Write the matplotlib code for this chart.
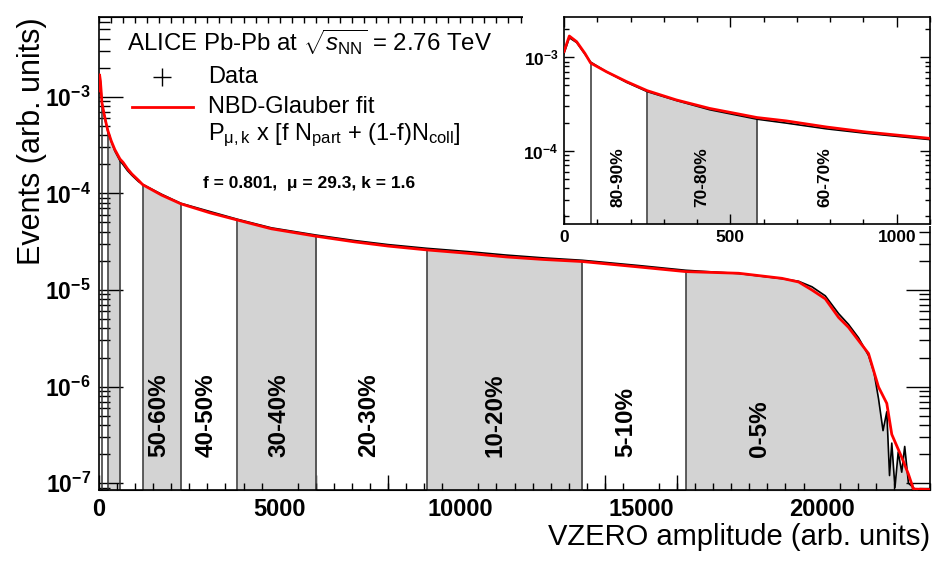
import matplotlib
matplotlib.use("Agg")
from matplotlib import pyplot as plt
from matplotlib.ticker import MultipleLocator, LogLocator, NullFormatter
import matplotlib.patches as mpatches
import numpy as np

plt.rcParams['font.family'] = ['Liberation Sans', 'DejaVu Sans']
plt.rcParams['mathtext.fontset'] = 'custom'
plt.rcParams['mathtext.rm'] = 'Liberation Sans'
plt.rcParams['mathtext.it'] = 'Liberation Sans:italic'
plt.rcParams['mathtext.bf'] = 'Liberation Sans:bold'
plt.rcParams['mathtext.sf'] = 'Liberation Sans'

# VZERO amplitude distribution
data_amp = [0, 16, 38, 63, 80, 128, 188, 250, 338, 438, 580, 668, 788, 908, 1098,
            1210, 1732, 2265, 3066, 3830, 4771, 6015, 7072, 8000, 9070, 10200, 11262,
            12300, 13380, 14945, 16240, 17707, 18903, 19365, 19732, 20102, 20470, 20746,
            21022, 21298, 21450, 21575, 21700, 21804, 21880, 21942, 22030, 22120, 22218,
            22300, 22403, 22541, 22650]
data_evt = [1.10e-3, 1.62e-3, 1.44e-3, 1.08e-3, 8.9e-4, 7.0e-4, 5.4e-4, 4.3e-4, 3.45e-4,
            2.75e-4, 2.18e-4, 1.98e-4, 1.72e-4, 1.54e-4, 1.32e-4,
            1.24e-4, 9.8e-5, 7.9e-5, 6.5e-5, 5.4e-5, 4.4e-5, 3.7e-5, 3.25e-5, 2.95e-5,
            2.7e-5, 2.5e-5, 2.3e-5, 2.15e-5, 2.03e-5, 1.79e-5, 1.6e-5, 1.48e-5, 1.31e-5,
            1.23e-5, 1.08e-5, 8.7e-6, 5.7e-6, 4.4e-6, 3.2e-6, 2.1e-6, 1.4e-6, 7.5e-7,
            3.5e-7, 5.5e-7, 1.2e-7, 2.6e-7, 9.0e-8, 2.1e-7, 1.3e-7, 2.4e-7, 1.0e-7,
            9.0e-8, 8.0e-8]

fit_amp = [0, 16, 38, 63, 80, 128, 188, 250, 338, 438, 580, 668, 788, 908, 1098,
           1210, 1732, 2265, 3066, 3830, 4771, 6015, 7072, 8000, 9070, 10200, 11262,
           12300, 13380, 14945, 16240, 17707, 18903, 19365, 19732, 20102, 20470, 20746,
           21022, 21298, 21575, 21804, 21942, 22218, 22403, 22541, 22960]
fit_evt = [1.15e-3, 1.69e-3, 1.47e-3, 1.10e-3, 8.7e-4, 7.0e-4, 5.5e-4, 4.4e-4, 3.5e-4,
           2.84e-4, 2.27e-4, 2.09e-4, 1.80e-4, 1.59e-4, 1.36e-4,
           1.23e-4, 9.6e-5, 7.8e-5, 6.3e-5, 5.3e-5, 4.3e-5, 3.6e-5, 3.15e-5, 2.85e-5,
           2.6e-5, 2.4e-5, 2.2e-5, 2.07e-5, 1.97e-5, 1.73e-5, 1.55e-5, 1.49e-5, 1.32e-5,
           1.21e-5, 1.0e-5, 8.1e-6, 5.2e-6, 4.1e-6, 3.0e-6, 2.2e-6, 9.9e-7, 6.7e-7,
           3.2e-7, 1.85e-7, 1.24e-7, 8.7e-8, 8.6e-8]

# centrality classes
edges = [80, 250, 580, 1210, 2265, 3830, 6015, 9070, 13380, 16240, 22650]
classes = ['80-90%', '70-80%', '60-70%', '50-60%', '40-50%', '30-40%',
           '20-30%', '10-20%', '5-10%', '0-5%']
main_labels = ['50-60%', '40-50%', '30-40%', '20-30%', '10-20%', '5-10%', '0-5%']
main_label_x = [1657, 2956, 4972, 7459, 10967, 14586, 18287]
inset_labels = ['80-90%', '70-80%', '60-70%']
inset_label_x = [162, 414, 783]

x = np.array(data_amp, dtype=float)
y = np.array(data_evt)
edge_y = np.interp(edges[:-1], x, y)
grey = '#d3d3d3'


def draw_classes(ax, ybot):
    for i, c in enumerate(classes):
        if i % 2 == 1:
            m = (x >= edges[i]) & (x <= edges[i + 1])
            ax.fill_between(x[m], y[m], ybot, color=grey, lw=0, zorder=1)
    ax.vlines(edges[:-1], ybot, edge_y, color='#333333', lw=1.1, zorder=2)
    ax.plot(data_amp, data_evt, color='black', lw=1.2, zorder=3)
    ax.plot(fit_amp, fit_evt, color='red', lw=2.0, zorder=4)


fig = plt.figure(figsize=(9.41, 5.63), dpi=100)
ax = fig.add_axes([99 / 941, 73 / 563, 831 / 941, 473 / 563])
ymin, ymax = 8.5e-8, 6.7e-3
draw_classes(ax, ymin)
ax.set_yscale('log')
ax.set_xlim(0, 23000)
ax.set_ylim(ymin, ymax)

decades = [1e-7, 1e-6, 1e-5, 1e-4, 1e-3]
ax.set_yticks(decades, [r'$\mathbf{10^{%d}}$' % int(np.log10(d)) for d in decades])
ax.yaxis.set_minor_locator(LogLocator(base=10, subs=np.arange(2, 10)))
ax.yaxis.set_minor_formatter(NullFormatter())
ax.tick_params(axis='y', which='major', direction='in', length=17, width=1,
               left=True, right=True, labelsize=16.5, pad=6)
ax.tick_params(axis='y', which='minor', direction='in', length=8, width=1,
               left=True, right=True)
ax.xaxis.set_major_locator(MultipleLocator(5000))
ax.xaxis.set_minor_locator(MultipleLocator(500))
ax.tick_params(axis='x', which='major', direction='in', length=0, labelsize=17, pad=6)
ax.tick_params(axis='x', which='minor', direction='in', length=5, width=1)
for lab in ax.get_xticklabels() + ax.get_yticklabels():
    lab.set_fontweight('bold')

secb = ax.secondary_xaxis('bottom')
secb.xaxis.set_major_locator(MultipleLocator(2000))
secb.tick_params(direction='in', length=11, width=1, labelbottom=False)
sect = ax.secondary_xaxis('top')
sect.xaxis.set_major_locator(MultipleLocator(1000 / 3))
sect.tick_params(direction='in', length=4.5, width=1, labeltop=False)
for s in ax.spines.values():
    s.set_linewidth(1.2)

tr = ax.get_xaxis_transform()
for lab, lx in zip(main_labels, main_label_x):
    ax.text(lx, 0.07, lab, transform=tr, rotation=90, ha='center', va='bottom',
            fontsize=17.5, fontweight='bold', zorder=5)

ax.text(1.0, -0.099, 'VZERO amplitude (arb. units)', transform=ax.transAxes,
        ha='right', va='center', fontsize=21)
ax.text(-0.0805, 1.0, 'Events (arb. units)', transform=ax.transAxes, rotation=90,
        ha='center', va='top', fontsize=22)

# legend
ax.text(0.0337, 0.947, r'ALICE Pb-Pb at $\sqrt{s_{\mathrm{NN}}}$ = 2.76 TeV',
        transform=ax.transAxes, ha='left', va='center', fontsize=17.3)
ax.plot([0.0758], [0.873], marker='+', ms=13, mew=1, color='black',
        transform=ax.transAxes, clip_on=False)
ax.text(0.131, 0.873, 'Data', transform=ax.transAxes, ha='left', va='center', fontsize=17)
ax.plot([0.0397, 0.113], [0.810, 0.810], color='red', lw=2.0, transform=ax.transAxes)
ax.text(0.131, 0.810, 'NBD-Glauber fit', transform=ax.transAxes, ha='left',
        va='center', fontsize=17)
ax.text(0.131, 0.750,
        r'$\mathrm{P_{\mu,k}}$ x [f $\mathrm{N_{part}}$ + (1-f)$\mathrm{N_{coll}}$]',
        transform=ax.transAxes, ha='left', va='center', fontsize=17)
ax.text(0.125, 0.647, 'f = 0.801,  \u03bc = 29.3, k = 1.6', transform=ax.transAxes,
        ha='left', va='center', fontsize=12.5, fontweight='bold')

# white pad behind the inset
fig.add_artist(mpatches.Rectangle((523 / 941, 337 / 563), 1 - 523 / 941, 1 - 337 / 563,
                                  transform=fig.transFigure, facecolor='white',
                                  edgecolor='none', zorder=1))

axi = fig.add_axes([564 / 941, 339 / 563, 366 / 941, 207 / 563], zorder=2)
iymin, iymax = 1.65e-5, 2.7e-3
draw_classes(axi, iymin)
axi.set_yscale('log')
axi.set_xlim(0, 1100)
axi.set_ylim(iymin, iymax)
axi.set_yticks([1e-4, 1e-3], [r'$\mathbf{10^{-4}}$', r'$\mathbf{10^{-3}}$'])
axi.yaxis.set_minor_locator(LogLocator(base=10, subs=np.arange(2, 10)))
axi.yaxis.set_minor_formatter(NullFormatter())
axi.xaxis.set_major_locator(MultipleLocator(500))
axi.xaxis.set_minor_locator(MultipleLocator(100))
axi.tick_params(which='major', direction='in', length=7, width=1, top=True, right=True,
                labelsize=12.5, pad=4)
axi.tick_params(which='minor', direction='in', length=3.5, width=1, top=True, right=True)
for lab in axi.get_xticklabels() + axi.get_yticklabels():
    lab.set_fontweight('bold')
for s in axi.spines.values():
    s.set_linewidth(1.2)
tri = axi.get_xaxis_transform()
for lab, lx in zip(inset_labels, inset_label_x):
    axi.text(lx, 0.082, lab, transform=tri, rotation=90, ha='center', va='bottom',
             fontsize=12.5, fontweight='bold', zorder=5)

fig.savefig('out.png', dpi=100)
